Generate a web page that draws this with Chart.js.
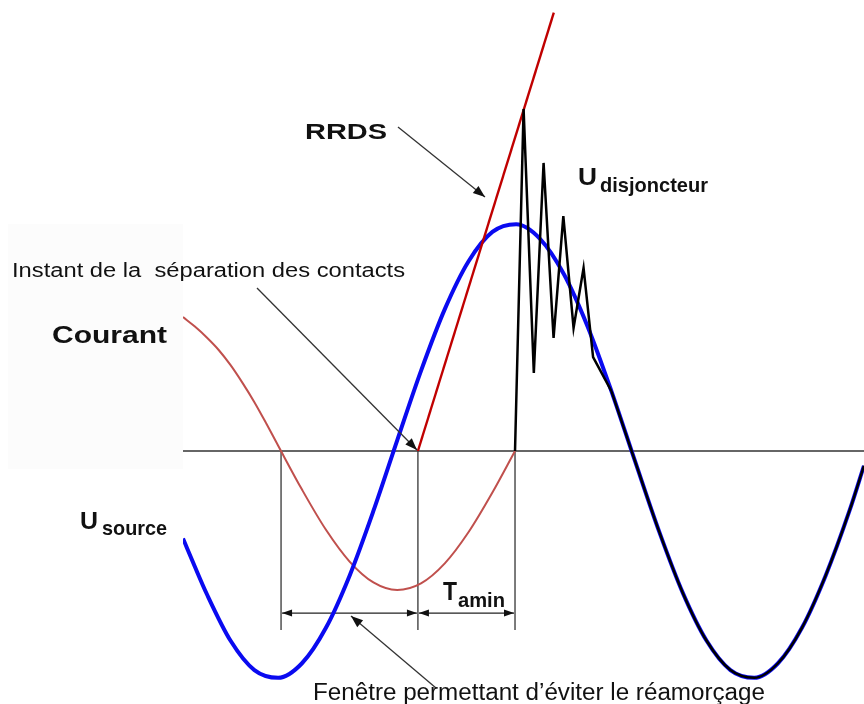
<!DOCTYPE html>
<html lang="fr">
<head>
<meta charset="utf-8">
<title>Tension transitoire de rétablissement</title>
<script src="https://cdn.jsdelivr.net/npm/chart.js@4/dist/chart.umd.min.js"></script>
<style>
  html, body { margin: 0; padding: 0; background: #ffffff; }
  #wrap { width: 864px; height: 704px; }
</style>
</head>
<body>
<div id="wrap"><canvas id="c" width="864" height="704"></canvas></div>
<script>
// Time axis in ms (50 Hz, 20 ms period), voltages and current in per-unit.
const sourceTime = [0, 0.5, 1, 2, 3, 4, 5, 6, 7, 8, 9, 10, 11, 12, 13, 14, 15, 16, 17, 18, 19, 20, 21, 22, 23, 24, 25, 26, 27, 28, 28.61];
const sourceVolt = [-0.385, -0.51, -0.63, -0.836, -0.965, -0.999, -0.935, -0.78, -0.549, -0.264, 0.047, 0.353, 0.625, 0.836, 0.965, 0.999, 0.935, 0.78, 0.549, 0.264, -0.047, -0.353, -0.625, -0.836, -0.965, -0.999, -0.935, -0.78, -0.549, -0.264, -0.065];

const currentTime = [0, 0.5, 1, 1.5, 2, 2.5, 3, 3.5, 4, 5, 6, 7, 8, 9, 10, 11, 12, 13, 13.95];
const currentVal  = [0.59, 0.548, 0.5, 0.445, 0.378, 0.3, 0.215, 0.121, 0.023, -0.17, -0.346, -0.487, -0.579, -0.612, -0.583, -0.495, -0.357, -0.183, 0];

// Rate of rise of recovery voltage, from the contact separation instant
const rrdsTime = [9.87, 15.58];
const rrdsVolt = [0, 1.931];

// Breaker voltage: damped oscillation after current zero, then source voltage
const breakerTime = [13.95, 14.31, 14.74, 15.15, 15.57, 15.98, 16.41, 16.83, 17.23, 18];
const breakerVolt = [0, 1.507, 0.344, 1.269, 0.498, 1.035, 0.542, 0.806, 0.414, 0.264];
const breakerTailTime = [18, 19, 20, 21, 22, 23, 24, 25, 26, 27, 28, 28.61];
const breakerTailVolt = [0.264, -0.047, -0.353, -0.625, -0.836, -0.965, -0.999, -0.935, -0.78, -0.549, -0.264, -0.065];

// Marker instants: current zero, contact separation, next current zero
const markerTime = [4.12, 9.87, 13.95];
const markerBottom = -0.789;
const dimensionLevel = -0.714;

const pts = (xs, ys) => xs.map((x, i) => ({ x: x, y: ys[i] }));

const FONT = '"Liberation Sans", Arial, Helvetica, sans-serif';

function fitText(ctx, str, x, y, font, width) {
  ctx.font = font;
  const w = ctx.measureText(str).width;
  ctx.save();
  ctx.translate(x, y);
  ctx.scale(width / w, 1);
  ctx.textAlign = 'left';
  ctx.textBaseline = 'alphabetic';
  ctx.fillText(str, 0, 0);
  ctx.restore();
}

function arrowHead(ctx, x1, y1, x2, y2, len, half) {
  const a = Math.atan2(y2 - y1, x2 - x1);
  ctx.beginPath();
  ctx.moveTo(x2, y2);
  ctx.lineTo(x2 - len * Math.cos(a) + half * Math.sin(a), y2 - len * Math.sin(a) - half * Math.cos(a));
  ctx.lineTo(x2 - len * Math.cos(a) - half * Math.sin(a), y2 - len * Math.sin(a) + half * Math.cos(a));
  ctx.closePath();
  ctx.fill();
}

function arrow(ctx, x1, y1, x2, y2, len, half) {
  ctx.beginPath();
  ctx.moveTo(x1, y1);
  ctx.lineTo(x2, y2);
  ctx.stroke();
  arrowHead(ctx, x1, y1, x2, y2, len, half);
}

const backdrop = {
  id: 'backdrop',
  beforeDraw(chart) {
    const ctx = chart.ctx;
    ctx.save();
    ctx.fillStyle = '#ffffff';
    ctx.fillRect(0, 0, chart.width, chart.height);
    ctx.fillStyle = '#fcfcfc';
    ctx.fillRect(8, 224, 175, 245);
    ctx.restore();
  },
  beforeDatasetsDraw(chart) {
    const ctx = chart.ctx;
    const xs = chart.scales.x, ys = chart.scales.y;
    const y0 = ys.getPixelForValue(0);
    const yb = ys.getPixelForValue(markerBottom);
    const yd = ys.getPixelForValue(dimensionLevel);
    const mx = markerTime.map(t => xs.getPixelForValue(t));
    ctx.save();
    // zero line
    ctx.strokeStyle = '#333333';
    ctx.lineWidth = 1.4;
    ctx.beginPath();
    ctx.moveTo(chart.chartArea.left, y0);
    ctx.lineTo(chart.chartArea.right, y0);
    ctx.stroke();
    // marker verticals
    ctx.strokeStyle = '#444444';
    ctx.lineWidth = 1.4;
    mx.forEach(x => {
      ctx.beginPath();
      ctx.moveTo(x, y0);
      ctx.lineTo(x, yb);
      ctx.stroke();
    });
    // dimension arrows
    ctx.strokeStyle = '#222222';
    ctx.fillStyle = '#111111';
    ctx.lineWidth = 1.3;
    for (let i = 0; i < mx.length - 1; i++) {
      const a = mx[i] + 1, b = mx[i + 1] - 1;
      ctx.beginPath();
      ctx.moveTo(a, yd);
      ctx.lineTo(b, yd);
      ctx.stroke();
      arrowHead(ctx, b, yd, a, yd, 10, 3.5);
      arrowHead(ctx, a, yd, b, yd, 10, 3.5);
    }
    ctx.restore();
  },
  afterDraw(chart) {
    const ctx = chart.ctx;
    ctx.save();
    ctx.fillStyle = '#111111';
    // leader arrows
    ctx.strokeStyle = '#333333';
    ctx.lineWidth = 1.3;
    arrow(ctx, 398, 127, 485, 197, 12, 4.5);
    arrow(ctx, 257, 288, 417, 450, 12, 4.5);
    arrow(ctx, 436, 688, 351, 616, 12, 4.5);
    // labels
    ctx.fillStyle = '#111111';
    fitText(ctx, 'RRDS', 305, 139, 'bold 22px ' + FONT, 82);
    fitText(ctx, 'Instant de la  séparation des contacts', 12, 277, '19.5px ' + FONT, 393);
    fitText(ctx, 'Courant', 52, 343, 'bold 23px ' + FONT, 115);
    fitText(ctx, 'U', 80, 528.5, 'bold 23px ' + FONT, 18);
    fitText(ctx, 'source', 102, 535, 'bold 21px ' + FONT, 65);
    fitText(ctx, 'U', 578, 185, 'bold 23px ' + FONT, 19);
    fitText(ctx, 'disjoncteur', 600, 192, 'bold 21px ' + FONT, 108);
    fitText(ctx, 'T', 443, 600, 'bold 25px ' + FONT, 14);
    fitText(ctx, 'amin', 458, 606.5, 'bold 20px ' + FONT, 47);
    fitText(ctx, 'Fenêtre permettant d\u2019éviter le réamorçage', 313, 700, '23px ' + FONT, 452);
    ctx.restore();
  }
};

new Chart(document.getElementById('c'), {
  type: 'line',
  data: {
    datasets: [
      {
        label: 'U disjoncteur',
        data: pts(breakerTime, breakerVolt),
        borderColor: '#000000',
        borderWidth: 2.5,
        tension: 0,
        pointRadius: 0
      },
      {
        label: 'U disjoncteur (suite)',
        data: pts(breakerTailTime, breakerTailVolt),
        borderColor: '#000000',
        borderWidth: 2.5,
        cubicInterpolationMode: 'monotone',
        pointRadius: 0
      },
      {
        label: 'RRDS',
        data: pts(rrdsTime, rrdsVolt),
        borderColor: '#c00000',
        borderWidth: 2.4,
        tension: 0,
        pointRadius: 0
      },
      {
        label: 'U source',
        data: pts(sourceTime, sourceVolt),
        borderColor: '#0a0af0',
        borderWidth: 4,
        cubicInterpolationMode: 'monotone',
        pointRadius: 0
      },
      {
        label: 'Courant',
        data: pts(currentTime, currentVal),
        borderColor: '#c0504d',
        borderWidth: 2,
        cubicInterpolationMode: 'monotone',
        pointRadius: 0
      }
    ]
  },
  options: {
    responsive: false,
    devicePixelRatio: 1,
    animation: false,
    layout: { padding: { left: 183, right: 0, top: 0, bottom: 0 } },
    plugins: { legend: { display: false }, tooltip: { enabled: false } },
    scales: {
      x: { type: 'linear', min: 0, max: 28.613, display: false },
      y: { type: 'linear', min: -1.1145, max: 1.9868, display: false }
    }
  },
  plugins: [backdrop]
});
</script>
</body>
</html>
